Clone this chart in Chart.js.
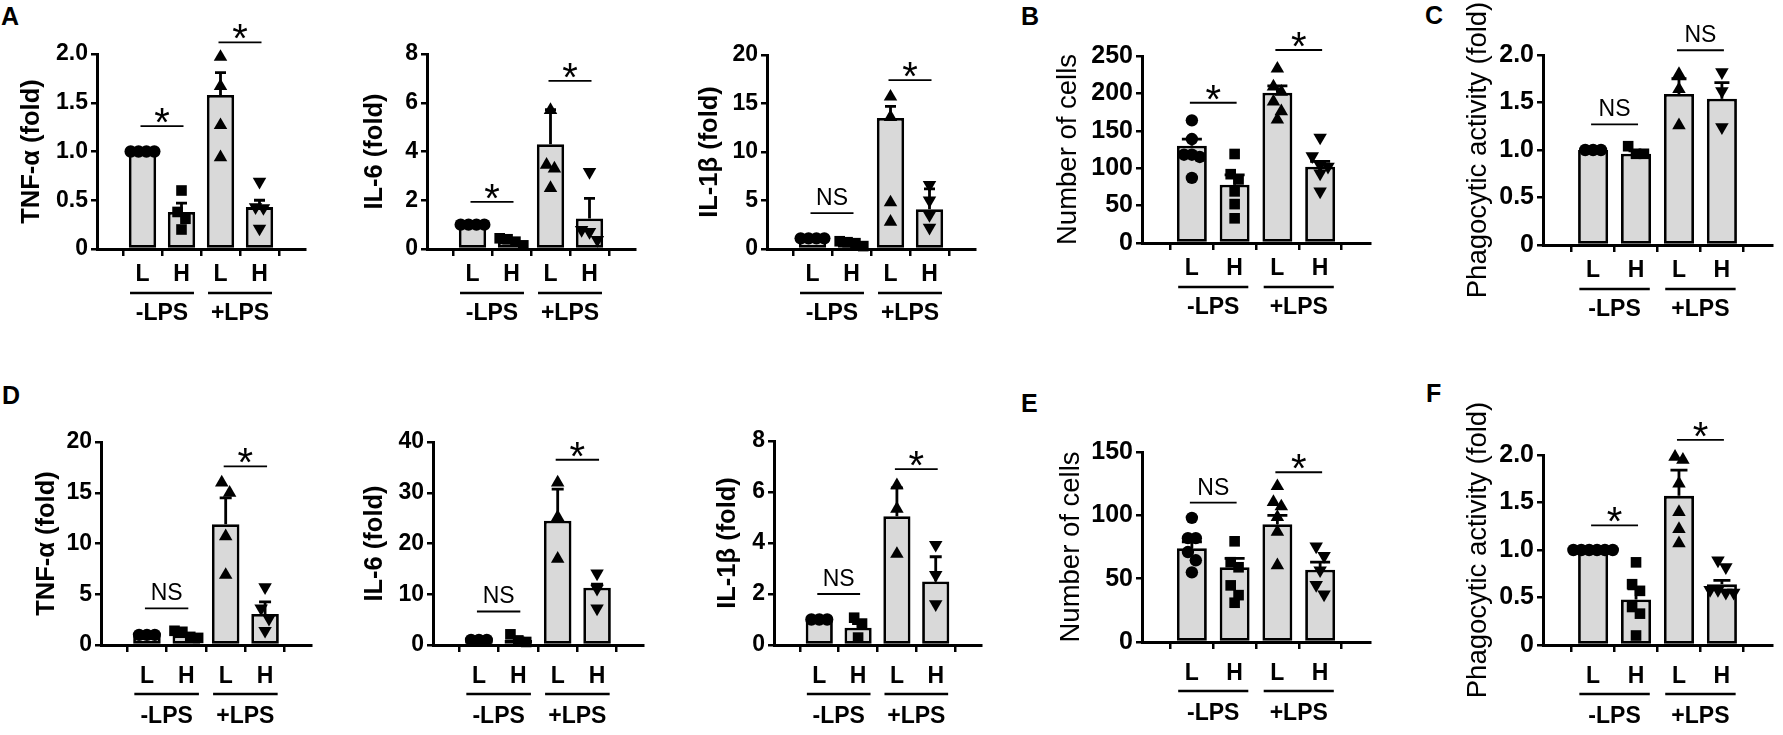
<!DOCTYPE html>
<html>
<head>
<meta charset="utf-8">
<script src="https://cdn.jsdelivr.net/npm/chart.js@4.4.0/dist/chart.umd.min.js"></script>
<style>
  body { margin: 0; background: #fff; width: 1783px; height: 735px; position: relative; overflow: hidden;
         font-family: "Liberation Sans", Arial, sans-serif; }
  canvas { position: absolute; }
  .letter { position: absolute; font-weight: bold; font-size: 25px; line-height: 25px; }
</style>
</head>
<body>
<div class="letter" style="left:1px;top:4px">A</div>
<div class="letter" style="left:1021px;top:4px">B</div>
<div class="letter" style="left:1425px;top:3px">C</div>
<div class="letter" style="left:2px;top:383px">D</div>
<div class="letter" style="left:1021px;top:391px">E</div>
<div class="letter" style="left:1426px;top:381px">F</div>
<script>
// categories
var groups = ['L', 'H', 'L', 'H'];
var lps = ['-LPS', '+LPS'];

// A: TNF-a
var aTnfMean = [1.0, 0.38, 1.58, 0.43];
var aTnfSem = [0, 0.09, 0.23, 0.07];
var aTnfPts = [[1, 1, 1, 1], [0.6, 0.38, 0.31, 0.2], [1.97, 1.67, 1.27, 0.94], [0.69, 0.43, 0.42, 0.21]];
var aTnfTicks = ['0', '0.5', '1.0', '1.5', '2.0'];
var aTnfSig = ['*', '*'];
var aTnfSigAt = [1.26, 2.12];

// A: IL-6
var aIl6Mean = [1.0, 0.3, 4.3, 1.25];
var aIl6Sem = [0, 0.06, 1.42, 0.83];
var aIl6Pts = [[1, 1, 1, 1], [0.15, 0.4, 0.3, 0.44], [5.7, 3.3, 3.45, 2.5], [3.16, 0.78, 0.37, 0.7]];
var aIl6Ticks = ['0', '2', '4', '6', '8'];
var aIl6Sig = ['*', '*'];
var aIl6SigAt = [1.93, 6.9];

// A: IL-1b
var aIl1bMean = [1.1, 0.6, 13.5, 4.1];
var aIl1bSem = [0, 0.12, 1.2, 2.1];
var aIl1bPts = [[1.1, 1.1, 1.1, 1.1], [0.3, 0.6, 0.8, 0.7], [15.7, 13.6, 4.8, 2.8], [6.6, 5.0, 3.5, 2.2]];
var aIl1bTicks = ['0', '5', '10', '15', '20'];
var aIl1bSig = ['NS', '*'];
var aIl1bSigAt = [3.7, 17.4];

// B: number of cells
var bCellsMean = [130, 78, 201, 102];
var bCellsSem = [9, 13, 9, 7];
var bCellsPts = [[164, 139, 118, 118, 115, 87], [119, 92, 85, 69, 52, 33], [233, 209, 202, 189, 176, 165], [141, 116, 104, 102, 93, 69]];
var bCellsTicks = ['0', '50', '100', '150', '200', '250'];
var bCellsSig = ['*', '*'];
var bCellsSigAt = [187.5, 258];

// C: phagocytic activity
var cPhagoMean = [1.0, 0.96, 1.59, 1.54];
var cPhagoSem = [0, 0.03, 0.16, 0.17];
var cPhagoPts = [[1, 1, 1], [1.04, 0.96, 0.96], [1.8, 1.64, 1.26], [1.82, 1.62, 1.24]];
var cPhagoTicks = ['0', '0.5', '1.0', '1.5', '2.0'];
var cPhagoSig = ['NS', 'NS'];
var cPhagoSigAt = [1.27, 2.05];

// D: TNF-a
var dTnfMean = [1.0, 0.95, 11.9, 3.05];
var dTnfSem = [0, 0.15, 2.6, 1.2];
var dTnfPts = [[1, 1, 1], [0.8, 1.3, 0.7, 1.4], [16, 15, 10.7, 6.9], [5.7, 3.6, 2.6, 1.4]];
var dTnfTicks = ['0', '5', '10', '15', '20'];
var dTnfSig = ['NS', '*'];
var dTnfSigAt = [3.6, 17.6];

// D: IL-6
var dIl6Mean = [1.0, 1.0, 24.5, 11.3];
var dIl6Sem = [0, 0.4, 6.2, 0.7];
var dIl6Pts = [[1, 1, 1], [0.6, 2.1, 0.9], [32, 25.2, 17], [14.1, 11.1, 7.2]];
var dIl6Ticks = ['0', '10', '20', '30', '40'];
var dIl6Sig = ['NS', '*'];
var dIl6SigAt = [6.6, 36.5];

// D: IL-1b
var dIl1bMean = [1.0, 0.68, 5.05, 2.49];
var dIl1bSem = [0, 0.16, 1.11, 0.97];
var dIl1bPts = [[1, 1, 1], [1.07, 0.84, 0.29], [6.26, 5.34, 3.57], [3.93, 2.75, 1.6]];
var dIl1bTicks = ['0', '2', '4', '6', '8'];
var dIl1bSig = ['NS', '*'];
var dIl1bSigAt = [2.0, 6.9];

// E: number of cells
var eCellsMean = [74, 59, 93, 57];
var eCellsSem = [5, 7, 7, 6];
var eCellsPts = [[98, 82, 82, 71, 64.5, 55], [79.5, 63, 59, 44.7, 37, 31], [123, 110.5, 107, 98.7, 87, 60.5], [75.5, 68, 56.6, 45, 37.6]];
var eCellsTicks = ['0', '50', '100', '150'];
var eCellsSig = ['NS', '*'];
var eCellsSigAt = [110, 134];

// F: phagocytic activity
var fPhagoMean = [1.0, 0.48, 1.57, 0.64];
var fPhagoSem = [0, 0.11, 0.27, 0.04];
var fPhagoPts = [[1, 1, 1, 1, 1, 1], [0.87, 0.64, 0.57, 0.4, 0.33, 0.1], [1.98, 1.95, 1.7, 1.4, 1.22, 1.07], [0.89, 0.82, 0.58, 0.58, 0.55, 0.55]];
var fPhagoTicks = ['0', '0.5', '1.0', '1.5', '2.0'];
var fPhagoSig = ['*', '*'];
var fPhagoSigAt = [1.26, 2.16];

var panels = [
  { title: 'TNF-\u03b1 (fold)', mean: aTnfMean, sem: aTnfSem, pts: aTnfPts, ticks: aTnfTicks, sig: aTnfSig, sigAt: aTnfSigAt },
  { title: 'IL-6 (fold)', mean: aIl6Mean, sem: aIl6Sem, pts: aIl6Pts, ticks: aIl6Ticks, sig: aIl6Sig, sigAt: aIl6SigAt },
  { title: 'IL-1\u03b2 (fold)', mean: aIl1bMean, sem: aIl1bSem, pts: aIl1bPts, ticks: aIl1bTicks, sig: aIl1bSig, sigAt: aIl1bSigAt },
  { title: 'Number of cells', mean: bCellsMean, sem: bCellsSem, pts: bCellsPts, ticks: bCellsTicks, sig: bCellsSig, sigAt: bCellsSigAt },
  { title: 'Phagocytic activity (fold)', mean: cPhagoMean, sem: cPhagoSem, pts: cPhagoPts, ticks: cPhagoTicks, sig: cPhagoSig, sigAt: cPhagoSigAt },
  { title: 'TNF-\u03b1 (fold)', mean: dTnfMean, sem: dTnfSem, pts: dTnfPts, ticks: dTnfTicks, sig: dTnfSig, sigAt: dTnfSigAt },
  { title: 'IL-6 (fold)', mean: dIl6Mean, sem: dIl6Sem, pts: dIl6Pts, ticks: dIl6Ticks, sig: dIl6Sig, sigAt: dIl6SigAt },
  { title: 'IL-1\u03b2 (fold)', mean: dIl1bMean, sem: dIl1bSem, pts: dIl1bPts, ticks: dIl1bTicks, sig: dIl1bSig, sigAt: dIl1bSigAt },
  { title: 'Number of cells', mean: eCellsMean, sem: eCellsSem, pts: eCellsPts, ticks: eCellsTicks, sig: eCellsSig, sigAt: eCellsSigAt },
  { title: 'Phagocytic activity (fold)', mean: fPhagoMean, sem: fPhagoSem, pts: fPhagoPts, ticks: fPhagoTicks, sig: fPhagoSig, sigAt: fPhagoSigAt }
];

// where each panel sits on the page
var layout = [
  { left: 0, axisX: 97, top: 54, zero: 249, w: 208, titleX: 32, cap: 11, row: 0, cyto: true },
  { left: 320, axisX: 427, top: 54, zero: 249, w: 208, titleX: 375, cap: 11, row: 0, cyto: true },
  { left: 650, axisX: 767, top: 55, zero: 249, w: 208, titleX: 710, cap: 11, row: 0, cyto: true },
  { left: 980, axisX: 1142, top: 56, zero: 243, w: 228, titleX: 1068, cap: 20, row: 0, cyto: false },
  { left: 1400, axisX: 1543, top: 55, zero: 245, w: 229, titleX: 1478, cap: 15, row: 0, cyto: false },
  { left: 0, axisX: 101, top: 442, zero: 645, w: 210, titleX: 47, cap: 12, row: 1, cyto: true },
  { left: 320, axisX: 433, top: 442, zero: 645, w: 210, titleX: 375, cap: 12, row: 1, cyto: true },
  { left: 650, axisX: 774, top: 441, zero: 645, w: 207, titleX: 728, cap: 12, row: 1, cyto: true },
  { left: 980, axisX: 1142, top: 452, zero: 642, w: 228, titleX: 1071, cap: 20, row: 1, cyto: false },
  { left: 1400, axisX: 1543, top: 455, zero: 645, w: 229, titleX: 1478, cap: 17, row: 1, cyto: false }
];

var shapes = ['circle', 'rect', 'triangle', 'triangle'];
var rotations = [0, 0, 0, 180];
var radii = [6.2, 7.5, 7.8, 7.8];
var FONT = '"Liberation Sans", Arial, sans-serif';

// spread points that sit at nearly the same height, like Prism does
function swarm(vals, pxPerY, pxPerX) {
  var order = vals.map(function (v, i) { return i; }).sort(function (a, b) { return vals[b] - vals[a]; });
  var rows = [];
  order.forEach(function (i) {
    var r = rows[rows.length - 1];
    if (r && (vals[r[0]] - vals[i]) * pxPerY < 11) r.push(i); else rows.push([i]);
  });
  var off = vals.map(function () { return 0; });
  rows.forEach(function (r) {
    r.forEach(function (i, k) { off[i] = (k - (r.length - 1) / 2) * 10.5 / pxPerX; });
  });
  return off;
}

var extras = {
  id: 'extras',
  afterDatasetDraw: function (chart, args, opts) {
    if (args.index !== 0) return;
    var ctx = chart.ctx, x = chart.scales.x, y = chart.scales.y;
    ctx.save();
    ctx.strokeStyle = '#000';
    ctx.lineWidth = 2.8;
    opts.mean.forEach(function (m, i) {
      if (!opts.sem[i]) return;
      var px = x.getPixelForValue(i), y0 = y.getPixelForValue(m), y1 = y.getPixelForValue(m + opts.sem[i]);
      ctx.beginPath();
      ctx.moveTo(px, y0); ctx.lineTo(px, y1);
      ctx.moveTo(px - opts.cap / 2, y1); ctx.lineTo(px + opts.cap / 2, y1);
      ctx.stroke();
    });
    ctx.restore();
  },
  afterDraw: function (chart, args, opts) {
    var ctx = chart.ctx, x = chart.scales.x, y = chart.scales.y;
    var zero = y.getPixelForValue(0);
    ctx.save();
    ctx.fillStyle = '#000';
    ctx.strokeStyle = '#000';
    ctx.textAlign = 'center';
    for (var j = 0; j < 2; j++) {
      var xa = x.getPixelForValue(2 * j), xb = x.getPixelForValue(2 * j + 1);
      // significance bar
      var ly = y.getPixelForValue(opts.sigAt[j]);
      ctx.lineWidth = 1.8;
      ctx.beginPath(); ctx.moveTo(xa - 2, ly); ctx.lineTo(xb + 2, ly); ctx.stroke();
      if (opts.sig[j] === '*') {
        ctx.font = '40px ' + FONT;
        ctx.textBaseline = 'alphabetic';
        ctx.fillText('*', (xa + xb) / 2, ly + 10);
      } else {
        ctx.font = '23px ' + FONT;
        ctx.textBaseline = 'bottom';
        ctx.fillText(opts.sig[j], (xa + xb) / 2, ly - 3);
      }
      // -LPS / +LPS grouping
      var ga = x.getPixelForValue(2 * j - 0.32), gb = x.getPixelForValue(2 * j + 1.32);
      ctx.lineWidth = 2.5;
      ctx.beginPath(); ctx.moveTo(ga, zero + opts.lineOff); ctx.lineTo(gb, zero + opts.lineOff); ctx.stroke();
      ctx.font = 'bold 23px ' + FONT;
      ctx.textBaseline = 'middle';
      ctx.fillText(lps[j], (ga + gb) / 2, zero + opts.textOff);
    }
    ctx.restore();
  }
};

panels.forEach(function (p, n) {
  var L = layout[n];
  var padTop = 60, padRight = 12, below = 100;
  var cv = document.createElement('canvas');
  var cw = L.axisX + L.w + padRight - L.left;
  var ch = L.zero + below - (L.top - padTop);
  cv.width = cw; cv.height = ch;
  cv.style.left = L.left + 'px';
  cv.style.top = (L.top - padTop) + 'px';
  document.body.appendChild(cv);

  var yMax = parseFloat(p.ticks[p.ticks.length - 1]);
  var pxPerY = (L.zero - L.top) / yMax, pxPerX = L.w / 4;
  var titleSize = L.cyto ? 25.5 : 27.5;

  var datasets = [{
    type: 'bar',
    order: 5,
    data: p.mean.map(function (m, i) { return { x: i, y: m }; }),
    backgroundColor: '#d9d9d9',
    borderColor: '#000',
    borderWidth: 2.8,
    borderSkipped: false,
    barPercentage: 0.7,
    categoryPercentage: 1
  }];
  p.pts.forEach(function (vals, g) {
    var off = swarm(vals, pxPerY, pxPerX);
    datasets.push({
      type: 'scatter',
      order: 1,
      clip: false,
      data: vals.map(function (v, k) { return { x: g + off[k], y: v }; }),
      pointStyle: shapes[g],
      rotation: rotations[g],
      radius: radii[g],
      backgroundColor: '#000',
      borderColor: '#000',
      borderWidth: 0
    });
  });

  new Chart(cv.getContext('2d'), {
    type: 'bar',
    data: { datasets: datasets },
    plugins: [extras],
    options: {
      responsive: false,
      animation: false,
      events: [],
      layout: { padding: { top: padTop, right: padRight, left: 0, bottom: 0 } },
      plugins: {
        legend: { display: false },
        tooltip: { enabled: false },
        extras: {
          mean: p.mean, sem: p.sem, cap: L.cap, sig: p.sig, sigAt: p.sigAt,
          lineOff: L.row ? 49 : 44, textOff: L.row ? 72 : 65
        }
      },
      scales: {
        x: {
          type: 'linear',
          min: -0.5,
          max: 3.5,
          afterBuildTicks: function (s) { s.ticks = groups.map(function (g, i) { return { value: i }; }); },
          afterFit: function (s) { s.height = below; },
          ticks: {
            callback: function (v, i) { return groups[i]; },
            color: '#000',
            font: { family: FONT, size: 23, weight: 'bold' },
            padding: L.row ? 11 : 5,
            maxRotation: 0
          },
          grid: { drawOnChartArea: false, color: '#000', lineWidth: 2.5, tickLength: 7 },
          border: { color: '#000', width: 3 }
        },
        y: {
          min: 0,
          max: yMax,
          afterBuildTicks: function (s) { s.ticks = p.ticks.map(function (t) { return { value: parseFloat(t) }; }); },
          afterFit: function (s) { s.width = L.axisX - L.left; },
          ticks: {
            callback: function (v, i) { return p.ticks[i]; },
            color: '#000',
            font: { family: FONT, size: L.cyto ? 23 : 25, weight: 'bold' },
            padding: 3
          },
          grid: { drawOnChartArea: false, color: '#000', lineWidth: 2.5, tickLength: 6 },
          border: { color: '#000', width: 3 },
          title: {
            display: true,
            text: p.title,
            color: '#000',
            font: { family: FONT, size: titleSize, weight: L.cyto ? 'bold' : 'normal' },
            padding: { top: L.titleX - L.left - titleSize * 0.6, bottom: 0 }
          }
        }
      }
    }
  });
});
</script>
</body>
</html>
